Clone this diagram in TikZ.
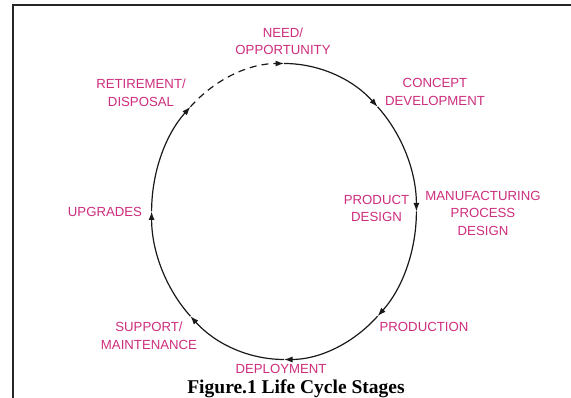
\documentclass[tikz,border=0pt]{standalone}
\usepackage{fontspec}
\setmainfont{Liberation Serif}
\newfontfamily\labfont{Liberation Sans}
\usetikzlibrary{arrows.meta}
\definecolor{stagepink}{RGB}{205,45,125}
\tikzset{
  stage/.style={text=stagepink, align=center, inner sep=0pt,
    font=\labfont\fontsize{13.2}{17.5}\selectfont},
  flow/.style={line width=1.2pt, black!90, -{Latex[length=8.5pt,width=6pt]}},
  flowdash/.style={flow, dash pattern=on 7pt off 5pt},
  frameline/.style={line width=2.2pt, black!85}
}
\begin{document}
\begin{tikzpicture}[x=1pt,y=1pt]
\useasboundingbox (0,0) rectangle (571,398);
% frame
\coordinate (fb) at (13,0);
\coordinate (fc) at (13,393);
\coordinate (fr) at (571,393);
\draw[frameline] (fb) -- (fc) -- (fr);
% ellipse points
\coordinate (c) at (284,186.5);
\def\rx{132.4}
\def\ry{148}
\foreach \a in {90,45,0,-45,-90,-135,-180,-225}{
  \path (c) ++(\a:\rx pt and \ry pt) coordinate (p\a);
}
\draw[flow] (p90) arc[start angle=90, end angle=45, x radius=\rx, y radius=\ry];
\draw[flow] (p45) arc[start angle=45, end angle=0, x radius=\rx, y radius=\ry];
\draw[flow] (p0) arc[start angle=0, end angle=-45, x radius=\rx, y radius=\ry];
\draw[flow] (p-45) arc[start angle=-45, end angle=-90, x radius=\rx, y radius=\ry];
\draw[flow] (p-90) arc[start angle=-90, end angle=-135, x radius=\rx, y radius=\ry];
\draw[flow] (p-135) arc[start angle=-135, end angle=-180, x radius=\rx, y radius=\ry];
\draw[flow] (p-180) arc[start angle=-180, end angle=-225, x radius=\rx, y radius=\ry];
\draw[flowdash] (p-225) arc[start angle=-225, end angle=-270, x radius=\rx, y radius=\ry];
% labels
\node[stage] (need) at (283,356.5) {NEED/\\OPPORTUNITY};
\node[stage] (concept) at (435,306) {CONCEPT\\DEVELOPMENT};
\node[stage] (retire) at (141,305) {RETIREMENT/\\DISPOSAL};
\node[stage] (upgr) at (105,186) {UPGRADES};
\node[stage] (prod) at (376.5,189.5) {PRODUCT\\DESIGN};
\node[stage] (manuf) at (483,185) {MANUFACTURING\\PROCESS\\DESIGN};
\node[stage] (production) at (424,71) {PRODUCTION};
\node[stage] (support) at (149,62) {SUPPORT/\\MAINTENANCE};
\node[stage] (deploy) at (281,29) {DEPLOYMENT};
\node[anchor=base, inner sep=0pt, font=\bfseries\fontsize{19.5}{22}\selectfont] (cap) at (296,4.5) {Figure.1 Life Cycle Stages};
\end{tikzpicture}
\end{document}
